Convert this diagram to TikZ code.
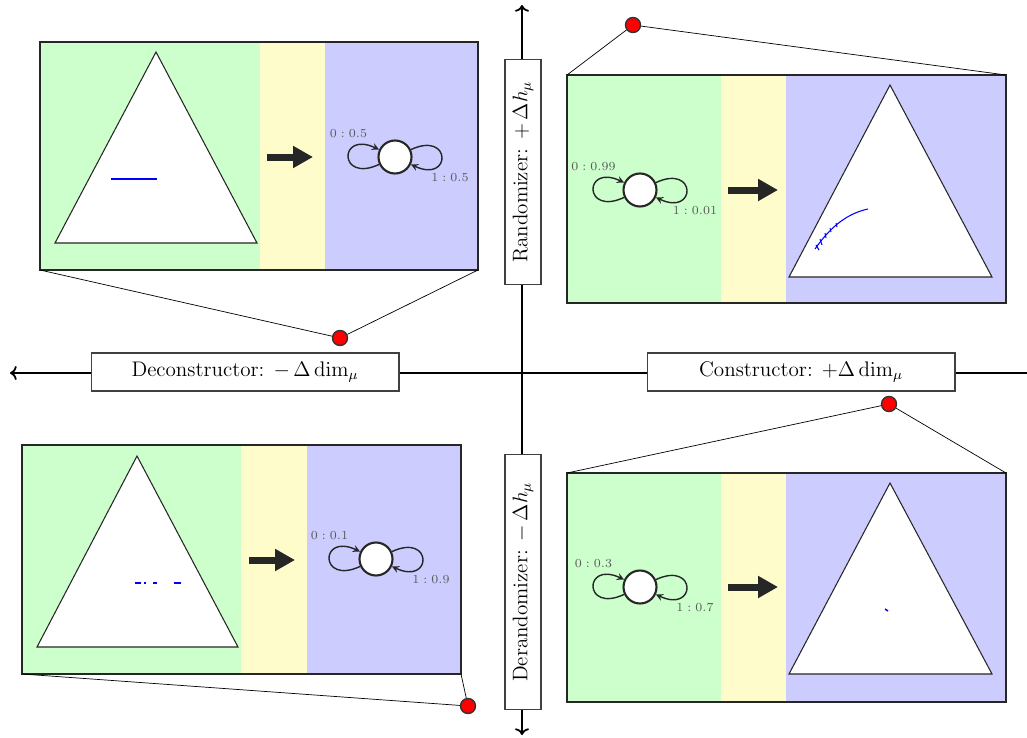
\documentclass[tikz,border=0pt]{standalone}
\usetikzlibrary{arrows.meta}
\begin{document}
\begin{tikzpicture}[x=0.02cm,y=-0.02cm,
    machine/.style={shape=circle,draw=black!85,very thick,fill=white,minimum size=6.6mm,inner sep=0pt},
    selfloop/.style={-stealth,thick,draw=black!85,min distance=9mm},
    prob/.style={font=\scriptsize,text=black!65},
    axislabel/.style={draw=black!75,semithick,fill=white,font=\large,inner sep=0pt},
    reddot/.style={shape=circle,draw=black!80,thick,fill=red,minimum size=3mm,inner sep=0pt},
    panel/.style={draw=black!85,very thick},
    simplex/.style={draw=black!85,semithick,fill=white},
    bigarrow/.style={-{Triangle[length=4mm,width=4.2mm]},line width=1.4mm,draw=black!85},
    sample/.style={draw=blue,thick}]
    \useasboundingbox (0,0) rectangle (1027,737);

    \coordinate (west) at (10,373);
    \coordinate (east) at (1027,373);
    \coordinate (north) at (522,5);
    \coordinate (south) at (522,735);
    \draw [<-,line width=1pt] (west) -- (east);
    \draw [<->,line width=1pt] (south) -- (north);

    \node[axislabel,minimum width=61.6mm,minimum height=7.6mm] (dec) at (245,372) {Deconstructor: $-\,\Delta\dim_\mu$};
    \node[axislabel,minimum width=61.6mm,minimum height=7.6mm] (con) at (801,372) {Constructor: $+\Delta\dim_\mu$};
    \node[axislabel,rotate=90,minimum width=45mm,minimum height=7.2mm] (ran) at (523,172) {Randomizer: $+\,\Delta h_\mu$};
    \node[axislabel,rotate=90,minimum width=51mm,minimum height=7.2mm] (der) at (523,582) {Derandomizer: $-\,\Delta h_\mu$};

    % top left
    \fill[green!20] (40,42) rectangle (260,270);
    \fill[yellow!20] (260,42) rectangle (325,270);
    \fill[blue!20] (325,42) rectangle (478,270);
    \draw[panel] (40,42) rectangle (478,270);
    \draw[simplex] (156,52) -- (55,243) -- (257,243) -- cycle;
    \draw[sample] (111,179) -- (157,179);
    \coordinate (a1) at (267,157);
    \coordinate (b1) at (313,157);
    \draw[bigarrow] (a1) -- (b1);
    \node[machine] (m1) at (395,157) {};
    \path (m1) edge [selfloop,out=205,in=155] node [prob,above=2.6mm] {$0:0.5$} (m1);
    \path (m1) edge [selfloop,out=25,in=-25] node [prob,below=2.1mm,xshift=1.7mm] {$1:0.5$} (m1);
    \coordinate (c1) at (40,270);
    \coordinate (d1) at (478,270);
    \node[reddot] (r1) at (340,338) {};
    \draw (c1) -- (r1) -- (d1);

    % top right
    \fill[green!20] (567,75) rectangle (721,303);
    \fill[yellow!20] (721,75) rectangle (786,303);
    \fill[blue!20] (786,75) rectangle (1006,303);
    \draw[panel] (567,75) rectangle (1006,303);
    \draw[simplex] (890,85) -- (789,277) -- (992,277) -- cycle;
    \draw[sample,semithick] (815,249) .. controls (829,229) and (845,214) .. (868,209);
    \draw[sample,semithick] (816,245) -- (819,250);
    \draw[sample,semithick] (820,239) -- (822,245);
    \draw[sample,semithick] (825,233) -- (826,238);
    \draw[sample,semithick] (830,228) -- (831,232);
    \draw[sample,semithick] (836,223) -- (837,227);
    \coordinate (a2) at (728,190);
    \coordinate (b2) at (778,190);
    \draw[bigarrow] (a2) -- (b2);
    \node[machine] (m2) at (640,190) {};
    \path (m2) edge [selfloop,out=205,in=155] node [prob,above=2.6mm] {$0:0.99$} (m2);
    \path (m2) edge [selfloop,out=25,in=-25] node [prob,below=2.1mm,xshift=1.7mm] {$1:0.01$} (m2);
    \coordinate (c2) at (567,75);
    \coordinate (d2) at (1006,75);
    \node[reddot] (r2) at (633,25) {};
    \draw (c2) -- (r2) -- (d2);

    % bottom left
    \fill[green!20] (22,445) rectangle (241,674);
    \fill[yellow!20] (241,445) rectangle (307,674);
    \fill[blue!20] (307,445) rectangle (461,674);
    \draw[panel] (22,445) rectangle (461,674);
    \draw[simplex] (137,456) -- (37,647) -- (238,647) -- cycle;
    \draw[sample] (135,583) -- (141,583);
    \draw[sample] (144,583) -- (146,583);
    \draw[sample] (153,583) -- (157,583);
    \draw[sample] (174,583) -- (181,583);
    \coordinate (a3) at (249,560);
    \coordinate (b3) at (295,560);
    \draw[bigarrow] (a3) -- (b3);
    \node[machine] (m3) at (376,559) {};
    \path (m3) edge [selfloop,out=205,in=155] node [prob,above=2.6mm] {$0:0.1$} (m3);
    \path (m3) edge [selfloop,out=25,in=-25] node [prob,below=2.1mm,xshift=1.7mm] {$1:0.9$} (m3);
    \coordinate (c3) at (22,674);
    \coordinate (d3) at (461,674);
    \node[reddot] (r3) at (468,706) {};
    \draw (c3) -- (r3) -- (d3);

    % bottom right
    \fill[green!20] (567,473) rectangle (721,702);
    \fill[yellow!20] (721,473) rectangle (786,702);
    \fill[blue!20] (786,473) rectangle (1006,702);
    \draw[panel] (567,473) rectangle (1006,702);
    \draw[simplex] (890,483) -- (789,674) -- (992,674) -- cycle;
    \draw[sample] (885,609) -- (888,611);
    \coordinate (a4) at (728,587);
    \coordinate (b4) at (778,587);
    \draw[bigarrow] (a4) -- (b4);
    \node[machine] (m4) at (640,587) {};
    \path (m4) edge [selfloop,out=205,in=155] node [prob,above=2.6mm] {$0:0.3$} (m4);
    \path (m4) edge [selfloop,out=25,in=-25] node [prob,below=2.1mm,xshift=1.7mm] {$1:0.7$} (m4);
    \coordinate (c4) at (567,473);
    \coordinate (d4) at (1006,473);
    \node[reddot] (r4) at (889,404) {};
    \draw (c4) -- (r4) -- (d4);
\end{tikzpicture}
\end{document}
